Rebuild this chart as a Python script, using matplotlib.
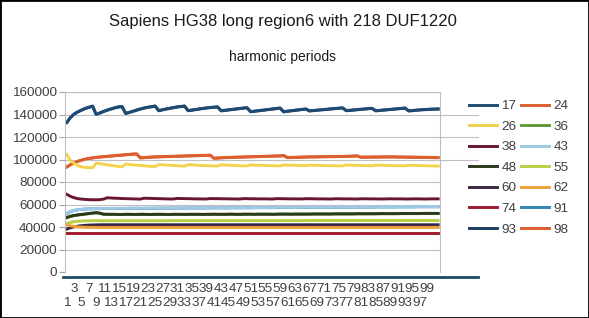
import matplotlib
matplotlib.use('Agg')
import matplotlib.pyplot as plt
from matplotlib.lines import Line2D
from matplotlib.patches import Rectangle

plt.rcParams['font.family'] = ['Liberation Sans', 'DejaVu Sans']

# categories on the x axis
cats = list(range(1, 103))

# harmonic period series
s17 = [133000, 137500, 140500, 142500, 144000, 145500, 146500, 147500, 140000, 141500,
       142800, 144000, 145000, 146000, 146800, 147200, 141000, 142000, 143000, 144000,
       145000, 145800, 146500, 147000, 147600, 143500, 144300, 145000, 145600, 146200,
       146800, 147200, 147600, 143500, 144000, 144500, 145000, 145500, 145900, 146300,
       146600, 146800, 143400, 143800, 144200, 144600, 145000, 145400, 145800, 146100,
       142600, 143000, 143400, 143800, 144200, 144600, 145000, 145400, 145800, 142500,
       143000, 143400, 143800, 144200, 144600, 145000, 143300, 143600, 143900, 144200,
       144500, 144800, 145100, 145400, 145700, 146000, 143500, 143800, 144100, 144400,
       144700, 145000, 145300, 145600, 143400, 143700, 144000, 144300, 144600, 144900,
       145200, 145500, 145800, 143300, 143600, 143900, 144200, 144400, 144600, 144800,
       144900, 145000]
s24 = [93500, 95500, 97000, 98500, 99500, 100300, 101000, 101500, 102000, 102300,
       102600, 102900, 103200, 103500, 103800, 104000, 104300, 104600, 104900, 105000,
       101500, 101800, 102000, 102200, 102400, 102500, 102600, 102700, 102800, 102900,
       103000, 103100, 103200, 103300, 103400, 103500, 103600, 103700, 103800, 103900,
       101200, 101400, 101600, 101800, 101900, 102000, 102100, 102200, 102300, 102400,
       102500, 102600, 102700, 102800, 102900, 103000, 103100, 103200, 103300, 103600,
       101800, 101900, 102000, 102100, 102200, 102300, 102400, 102400, 102500, 102500,
       102600, 102600, 102700, 102700, 102800, 102800, 102900, 103000, 103100, 103300,
       102100, 102200, 102200, 102300, 102300, 102300, 102400, 102400, 102400, 102400,
       102300, 102300, 102200, 102200, 102100, 102100, 102000, 102000, 101900, 101900,
       101800, 101800]
s26 = [104500, 99000, 96500, 94500, 93500, 93000, 92800, 92600, 96800, 96300,
       95800, 95300, 94800, 94300, 93900, 93500, 95900, 95600, 95300, 95000,
       94700, 94400, 94100, 93900, 93700, 95500, 95300, 95100, 94900, 94700,
       94500, 94300, 94100, 95400, 95200, 95000, 94800, 94600, 94500, 94400,
       94300, 94200, 95300, 95100, 94900, 94800, 94600, 94500, 94400, 94300,
       95200, 95000, 94900, 94800, 94700, 94600, 94500, 94400, 94300, 95100,
       95000, 94900, 94800, 94700, 94600, 94500, 95000, 94900, 94800, 94700,
       94600, 94500, 94500, 94400, 94400, 94300, 95100, 95000, 94900, 94800,
       94700, 94600, 94500, 94400, 95000, 94900, 94800, 94700, 94600, 94500,
       94500, 94400, 94400, 94900, 94800, 94700, 94600, 94500, 94400, 94300,
       94300, 94200]
s36 = [48300, 49400, 50100, 50600, 51000, 51400, 51800, 52200, 52600, 52100,
       51300, 51200, 51200, 51200, 51100, 51100, 51200, 51200, 51100, 51100,
       51200, 51200, 51100, 51100, 51200, 51200, 51200, 51100, 51100, 51200,
       51200, 51200, 51100, 51200, 51200, 51200, 51200, 51100, 51200, 51200,
       51300, 51200, 51200, 51200, 51300, 51300, 51200, 51200, 51300, 51300,
       51300, 51200, 51300, 51300, 51300, 51300, 51200, 51300, 51400, 51400,
       51400, 51300, 51400, 51400, 51400, 51400, 51400, 51500, 51500, 51500,
       51500, 51500, 51500, 51600, 51600, 51600, 51600, 51600, 51600, 51700,
       51700, 51700, 51700, 51700, 51700, 51800, 51800, 51800, 51800, 51800,
       51800, 51900, 51900, 51900, 51900, 51900, 51900, 52000, 52000, 52000,
       52000, 52000]
s38 = [69000, 67200, 66000, 65200, 64800, 64500, 64300, 64200, 64200, 64300,
       64800, 66000, 65800, 65600, 65500, 65300, 65200, 65100, 65000, 64900,
       64800, 65600, 65500, 65400, 65300, 65200, 65100, 65000, 64900, 64900,
       65400, 65300, 65200, 65200, 65100, 65000, 65000, 64900, 64900, 65300,
       65200, 65200, 65100, 65100, 65000, 65000, 64900, 64900, 65200, 65200,
       65100, 65100, 65000, 65000, 65000, 64900, 64900, 65200, 65200, 65100,
       65100, 65000, 65000, 65000, 64900, 65200, 65100, 65100, 65000, 65000,
       65000, 64900, 64900, 65100, 65100, 65000, 65000, 65000, 64900, 64900,
       65100, 65100, 65000, 65000, 65000, 64900, 64900, 65000, 65100, 65000,
       65000, 65000, 64900, 64900, 65000, 65000, 65000, 64900, 64900, 65000,
       65000, 65000]
s43 = [52000, 53800, 54800, 55400, 55800, 56000, 56200, 56300, 56400, 56400,
       56500, 56500, 56500, 56600, 56600, 56600, 56600, 56700, 56700, 56700,
       56700, 56700, 56700, 56800, 56800, 56800, 56800, 56800, 56900, 56900,
       56900, 56900, 56900, 57000, 57000, 57000, 57000, 57000, 57000, 57100,
       57100, 57100, 57100, 57100, 57100, 57200, 57200, 57200, 57200, 57200,
       57200, 57300, 57300, 57300, 57300, 57300, 57300, 57400, 57400, 57400,
       57400, 57400, 57400, 57500, 57500, 57500, 57500, 57500, 57600, 57600,
       57600, 57600, 57600, 57700, 57700, 57700, 57700, 57700, 57800, 57800,
       57800, 57800, 57800, 57800, 57900, 57900, 57900, 57900, 57900, 57900,
       58000, 58000, 58000, 58000, 58000, 58100, 58100, 58100, 58100, 58100,
       58100, 58100]
s48 = [48500, 49600, 50300, 50800, 51200, 51600, 52000, 52400, 52800, 52300,
       51400, 51300, 51300, 51300, 51200, 51200, 51300, 51300, 51200, 51200,
       51300, 51300, 51200, 51200, 51300, 51300, 51300, 51200, 51200, 51300,
       51300, 51300, 51200, 51300, 51300, 51300, 51300, 51200, 51300, 51300,
       51400, 51300, 51300, 51300, 51400, 51400, 51300, 51300, 51400, 51400,
       51400, 51300, 51400, 51400, 51400, 51400, 51300, 51400, 51500, 51500,
       51500, 51400, 51500, 51500, 51500, 51500, 51500, 51600, 51600, 51600,
       51600, 51600, 51600, 51700, 51700, 51700, 51700, 51700, 51700, 51800,
       51800, 51800, 51800, 51800, 51800, 51900, 51900, 51900, 51900, 51900,
       51900, 52000, 52000, 52000, 52000, 52000, 52000, 52100, 52100, 52100,
       52100, 52100]
s55 = [43000, 44000, 44700, 45100, 45300, 45500, 45500, 45600, 45600, 45600,
       45600, 45600, 45600, 45600, 45600, 45600, 45600, 45600, 45600, 45600,
       45600, 45600, 45600, 45600, 45600, 45600, 45600, 45600, 45700, 45700,
       45700, 45700, 45700, 45700, 45700, 45700, 45700, 45700, 45700, 45700,
       45700, 45700, 45700, 45700, 45700, 45700, 45700, 45700, 45700, 45700,
       45700, 45700, 45700, 45700, 45700, 45700, 45700, 45700, 45700, 45700,
       45700, 45700, 45700, 45700, 45700, 45700, 45800, 45800, 45800, 45800,
       45800, 45800, 45800, 45800, 45800, 45800, 45800, 45800, 45800, 45800,
       45800, 45800, 45800, 45800, 45800, 45800, 45800, 45800, 45800, 45800,
       45800, 45800, 45800, 45800, 45800, 45800, 45800, 45800, 45800, 45800,
       45800, 45800]
s60 = [38200, 39300, 40200, 40800, 41200, 41500, 41700, 41800, 41900, 42000,
       42000, 42000, 42000, 42000, 42000, 42000, 42000, 42000, 42000, 42000,
       42000, 42000, 42000, 42000, 42000, 42000, 42000, 42000, 42000, 42000,
       42000, 42000, 42000, 42000, 42000, 42000, 42000, 42000, 42000, 42000,
       42000, 42000, 42000, 42000, 42000, 42000, 42000, 42000, 42000, 42000,
       42000, 42000, 42000, 42000, 42000, 42000, 42000, 42000, 42000, 42000,
       42000, 42000, 42000, 42000, 42000, 42000, 42000, 42000, 42000, 42000,
       42000, 42000, 42000, 42000, 42000, 42000, 42000, 42000, 42000, 42000,
       42000, 42000, 42000, 42000, 42000, 42000, 42000, 42000, 42000, 42000,
       42000, 42000, 42000, 42000, 42000, 42000, 42000, 42000, 42000, 42000,
       42000, 42000]
s62 = [41800, 41000, 40500, 40100, 39900, 39800, 39700, 39700, 39600, 39600,
       39600, 39600, 39600, 39600, 39600, 39600, 39600, 39600, 39600, 39600,
       39600, 39600, 39600, 39600, 39600, 39600, 39600, 39600, 39600, 39600,
       39600, 39600, 39600, 39600, 39600, 39600, 39600, 39600, 39600, 39600,
       39600, 39600, 39600, 39600, 39600, 39600, 39600, 39600, 39600, 39600,
       39600, 39600, 39600, 39600, 39600, 39600, 39600, 39600, 39600, 39600,
       39600, 39600, 39600, 39600, 39600, 39600, 39600, 39600, 39600, 39600,
       39600, 39600, 39600, 39600, 39600, 39600, 39600, 39600, 39600, 39600,
       39600, 39600, 39600, 39600, 39600, 39600, 39600, 39600, 39600, 39600,
       39600, 39600, 39600, 39600, 39600, 39600, 39600, 39600, 39600, 39600,
       39600, 39600]
s74 = [34500, 34500, 34500, 34500, 34500, 34500, 34500, 34500, 34500, 34500,
       34500, 34500, 34500, 34500, 34500, 34500, 34500, 34500, 34500, 34500,
       34500, 34500, 34500, 34500, 34500, 34500, 34500, 34500, 34500, 34500,
       34500, 34500, 34500, 34500, 34500, 34500, 34500, 34500, 34500, 34500,
       34500, 34500, 34500, 34500, 34500, 34500, 34500, 34500, 34500, 34500,
       34500, 34500, 34500, 34500, 34500, 34500, 34500, 34500, 34500, 34500,
       34500, 34500, 34500, 34500, 34500, 34500, 34500, 34500, 34500, 34500,
       34500, 34500, 34500, 34500, 34500, 34500, 34500, 34500, 34500, 34500,
       34500, 34500, 34500, 34500, 34500, 34500, 34500, 34500, 34500, 34500,
       34500, 34500, 34500, 34500, 34500, 34500, 34500, 34500, 34500, 34500,
       34500, 34500]
s91 = [51900, 53700, 54700, 55300, 55700, 55900, 56100, 56200, 56300, 56300,
       56400, 56400, 56400, 56500, 56500, 56500, 56500, 56600, 56600, 56600,
       56600, 56600, 56600, 56700, 56700, 56700, 56700, 56700, 56800, 56800,
       56800, 56800, 56800, 56900, 56900, 56900, 56900, 56900, 56900, 57000,
       57000, 57000, 57000, 57000, 57000, 57100, 57100, 57100, 57100, 57100,
       57100, 57200, 57200, 57200, 57200, 57200, 57200, 57300, 57300, 57300,
       57300, 57300, 57300, 57400, 57400, 57400, 57400, 57400, 57500, 57500,
       57500, 57500, 57500, 57600, 57600, 57600, 57600, 57600, 57700, 57700,
       57700, 57700, 57700, 57700, 57800, 57800, 57800, 57800, 57800, 57800,
       57900, 57900, 57900, 57900, 57900, 58000, 58000, 58000, 58000, 58000,
       58000, 58000]
s93 = [132800, 137300, 140300, 142300, 143800, 145300, 146300, 147300, 139800, 141300,
       142600, 143800, 144800, 145800, 146600, 147000, 140800, 141800, 142800, 143800,
       144800, 145600, 146300, 146800, 147400, 143300, 144100, 144800, 145400, 146000,
       146600, 147000, 147400, 143300, 143800, 144300, 144800, 145300, 145700, 146100,
       146400, 146600, 143200, 143600, 144000, 144400, 144800, 145200, 145600, 145900,
       142400, 142800, 143200, 143600, 144000, 144400, 144800, 145200, 145600, 142300,
       142800, 143200, 143600, 144000, 144400, 144800, 143100, 143400, 143700, 144000,
       144300, 144600, 144900, 145200, 145500, 145800, 143300, 143600, 143900, 144200,
       144500, 144800, 145100, 145400, 143200, 143500, 143800, 144100, 144400, 144700,
       145000, 145300, 145600, 143100, 143400, 143700, 144000, 144200, 144400, 144600,
       144700, 144800]
s98 = [93300, 95300, 96800, 98300, 99300, 100100, 100800, 101300, 101800, 102100,
       102400, 102700, 103000, 103300, 103600, 103800, 104100, 104400, 104700, 104800,
       101300, 101600, 101800, 102000, 102200, 102300, 102400, 102500, 102600, 102700,
       102800, 102900, 103000, 103100, 103200, 103300, 103400, 103500, 103600, 103700,
       101000, 101200, 101400, 101600, 101700, 101800, 101900, 102000, 102100, 102200,
       102300, 102400, 102500, 102600, 102700, 102800, 102900, 103000, 103100, 103400,
       101600, 101700, 101800, 101900, 102000, 102100, 102200, 102200, 102300, 102300,
       102400, 102400, 102500, 102500, 102600, 102600, 102700, 102800, 102900, 103100,
       101900, 102000, 102000, 102100, 102100, 102100, 102200, 102200, 102200, 102200,
       102100, 102100, 102000, 102000, 101900, 101900, 101800, 101800, 101700, 101700,
       101600, 101600]

labels = ['17', '24', '26', '36', '38', '43', '48', '55', '60', '62', '74', '91', '93', '98']
series = [s17, s24, s26, s36, s38, s43, s48, s55, s60, s62, s74, s91, s93, s98]
colors = ['#1E4B73', '#DD5E2E', '#F3D24E', '#5E9A3A', '#6A1630', '#9DC8E6', '#2D391C',
          '#B9D044', '#3A2848', '#EFA23C', '#A11A30', '#2F86B0', '#1B3D5E', '#DD5E2E']
hidden = {'36', '91', '93', '98'}

fig = plt.figure(figsize=(5.89, 3.18), dpi=100)
ax = fig.add_axes([65 / 589, 1 - 272 / 318, 375 / 589, 180 / 318])

lines = {}
for lab, vals, col in zip(labels, series, colors):
    z = 1.5 if lab in hidden else 2
    ln, = ax.plot(cats, vals, color=col, lw=2.1, zorder=z, solid_joinstyle='round')
    lines[lab] = ln

ax.set_xlim(0.5, 102.5)
ax.set_ylim(0, 160000)
yt = list(range(0, 160001, 20000))
ax.set_yticks(yt)
ax.set_yticklabels([str(v) for v in yt], fontsize=9.7, color='#404040')
ax.tick_params(axis='y', length=4, color='#A6A6A6', pad=2)

xt = list(range(1, 100, 2))
xl = [('\n' + str(v)) if (v - 1) % 4 == 0 else str(v) for v in xt]
ax.set_xticks(xt)
ax.set_xticklabels(xl, fontsize=9.7, color='#404040', linespacing=1.25)
ax.tick_params(axis='x', length=0, pad=8)

ax.grid(axis='y', color='#BFBFBF', lw=0.8, zorder=0)
for side in ['left', 'right', 'top']:
    ax.spines[side].set_color('#BFBFBF')
    ax.spines[side].set_linewidth(0.8)
ax.spines['bottom'].set_visible(False)

# gridline stubs running past the plot area, as in the original
for v in [100000, 120000, 140000]:
    ax.axhline(v, xmin=1.0, xmax=1.10, color='#BFBFBF', lw=0.8, clip_on=False)

# dark category-axis line under the plot
ax.plot([-0.005, 1.10], [-0.03, -0.03], transform=ax.transAxes, clip_on=False,
        color='#1D4A66', lw=2)

fig.text(0.481, 0.931, 'Sapiens HG38 long region6 with 218 DUF1220',
         ha='center', va='center', fontsize=12, color='#1a1a1a')
fig.text(0.48, 0.821, 'harmonic periods', ha='center', va='center',
         fontsize=10, color='#1a1a1a')

order = ['17', '26', '38', '48', '60', '74', '93', '24', '36', '43', '55', '62', '91', '98']
handles = [Line2D([], [], color=lines[k].get_color(), lw=2.1) for k in order]
fig.legend(handles, order, ncol=2, loc='upper left',
           bbox_to_anchor=(469 / 589, 1 - 100 / 318), frameon=False, fontsize=9.7,
           handlelength=2.1, handletextpad=0.3, columnspacing=0.35,
           labelspacing=0.6, borderaxespad=0, borderpad=0, labelcolor='#404040')

fig.patches.append(Rectangle((0, 0), 1, 1, transform=fig.transFigure, fill=False,
                             edgecolor='black', lw=2))

plt.savefig('out.png', dpi=100)
plt.close()
